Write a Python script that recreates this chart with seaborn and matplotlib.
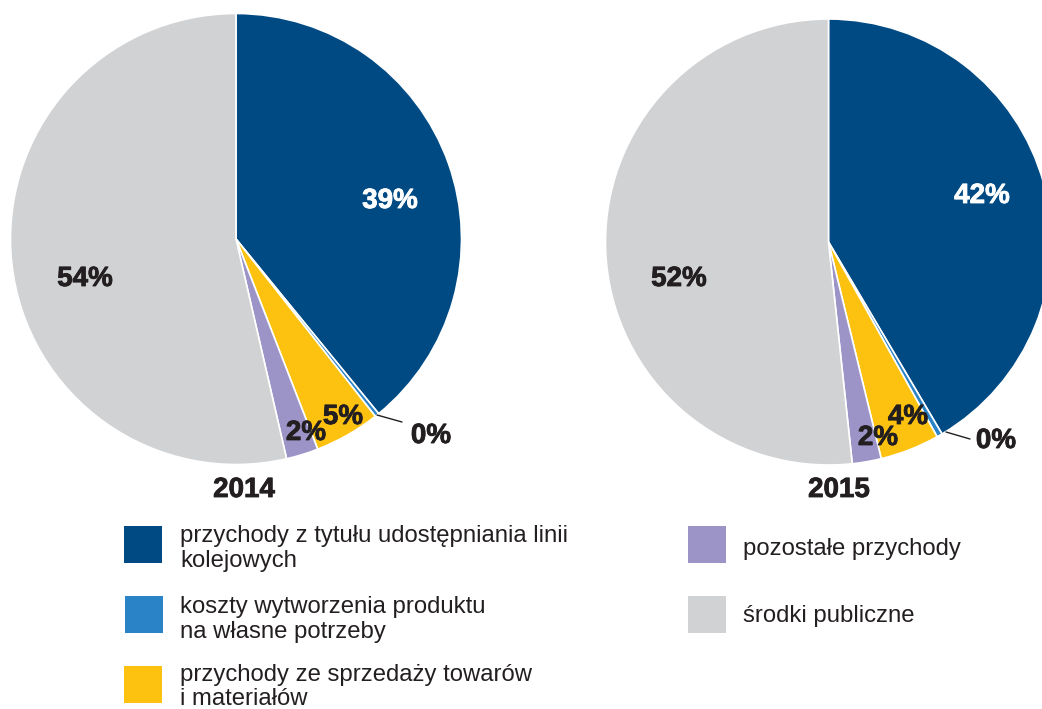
import matplotlib
matplotlib.use("Agg")
import matplotlib.pyplot as plt
from matplotlib.patches import Rectangle
import matplotlib.patheffects as pe
import seaborn as sns

# ---- data ----
categories = [
    "przychody z tytułu udostępniania linii\nkolejowych",
    "koszty wytworzenia produktu\nna własne potrzeby",
    "przychody ze sprzedaży towarów\ni materiałów",
    "pozostałe przychody",
    "środki publiczne",
]
years = ["2014", "2015"]
values_2014 = [39.1, 0.3, 4.7, 2.3, 53.6]
values_2015 = [41.5, 0.4, 4.3, 2.1, 51.7]
colors = ["#004a84", "#2a82c7", "#fdc20f", "#9c93c7", "#d1d2d4"]

sns.set_theme(style="white")
plt.rcParams["font.family"] = ["Liberation Sans", "DejaVu Sans"]

W, H = 1042, 709
fig = plt.figure(figsize=(W / 100, H / 100), dpi=100)
ax = fig.add_axes([0, 0, 1, 1])
palette = sns.color_palette(colors)

dark = "#231f20"

def fy(y):
    return H - y

def heavy(col):
    return [pe.withStroke(linewidth=0.6, foreground=col)]

# pie geometry (pixel coords, y from top)
pies = [
    dict(vals=values_2014, c=(236, 239), r=225.5,
         lab=[(390, 201), None, (343, 417), (306, 433), (85, 279)],
         zero=(431, 436), lead=((377, 415), (402, 422)), year=(244, 490)),
    dict(vals=values_2015, c=(828.5, 242), r=223,
         lab=[(982, 196), None, (908, 417), (878, 438), (679, 279)],
         zero=(996, 441), lead=((946, 432), (970, 439)), year=(839, 490)),
]

for p, yr in zip(pies, years):
    cx, cy = p["c"]
    ax.pie(p["vals"], colors=palette, startangle=90, counterclock=False,
           center=(cx, fy(cy)), radius=p["r"],
           wedgeprops=dict(edgecolor="white", linewidth=1.2))
    for i, pos in enumerate(p["lab"]):
        if pos is None:
            continue
        col = "white" if i == 0 else dark
        ax.text(pos[0], fy(pos[1]), f"{p['vals'][i]:.0f}%", ha="center",
                va="center", fontsize=20, fontweight="bold", color=col,
                path_effects=heavy(col))
    ax.text(p["zero"][0], fy(p["zero"][1]), f"{p['vals'][1]:.0f}%",
            ha="center", va="center", fontsize=20, fontweight="bold",
            color=dark, path_effects=heavy(dark))
    (x1, y1), (x2, y2) = p["lead"]
    ax.plot([x1, x2], [fy(y1), fy(y2)], color=dark, linewidth=1)
    ax.text(p["year"][0], fy(p["year"][1]), yr, ha="center", va="center",
            fontsize=20, fontweight="bold", color=dark,
            path_effects=heavy(dark))

# legend (pixel positions, y from top)
legend_layout = [
    dict(box=(124, 526), tx=180, base=[542, 567]),
    dict(box=(125, 596), tx=180, base=[613, 638]),
    dict(box=(124, 666), tx=180, base=[681, 705]),
    dict(box=(688, 526), tx=743, base=[555]),
    dict(box=(688, 596), tx=743, base=[622]),
]
for cat, col, lay in zip(categories, palette, legend_layout):
    bx, by = lay["box"]
    ax.add_patch(Rectangle((bx, fy(by + 37)), 38, 37, facecolor=col,
                           edgecolor="none"))
    for line, b in zip(cat.split("\n"), lay["base"]):
        ax.text(lay["tx"], fy(b), line, ha="left", va="baseline",
                fontsize=17.2, color=dark)

ax.set_xlim(0, W)
ax.set_ylim(0, H)
ax.set_aspect("auto")
ax.axis("off")

fig.savefig("out.png", dpi=100)
